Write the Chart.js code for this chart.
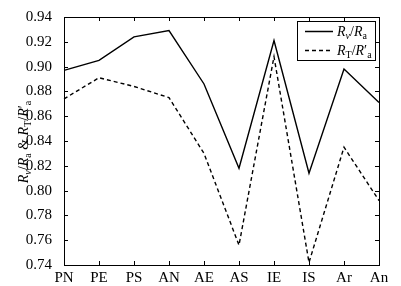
<!DOCTYPE html>
<html><head><meta charset="utf-8">
<script src="https://cdn.jsdelivr.net/npm/chart.js@4/dist/chart.umd.min.js"></script>
<style>html,body{margin:0;padding:0;background:#fff}canvas{display:block}</style>
</head><body>
<div style="width:401px;height:286px"><canvas id="c" width="401" height="286"></canvas></div>
<script>
const categories = ['PN','PE','PS','AN','AE','AS','IE','IS','Ar','An'];
const rvRa = [0.897,0.905,0.924,0.929,0.886,0.818,0.921,0.814,0.898,0.871];
const rtRa = [0.874,0.891,0.884,0.875,0.830,0.756,0.908,0.742,0.835,0.792];
const yMin = 0.74, yMax = 0.94, yStep = 0.02;

const FONT = '"Liberation Serif", "Times New Roman", serif';

function drawRich(ctx, parts, x, y, size, align) {
  const subSize = Math.round(size * 0.68);
  let total = 0;
  const widths = parts.map(p => {
    ctx.font = (p.italic ? 'italic ' : '') + (p.sub ? subSize : size) + 'px ' + FONT;
    const w = ctx.measureText(p.t).width;
    total += w;
    return w;
  });
  let cx = align === 'center' ? x - total / 2 : x;
  parts.forEach((p, i) => {
    ctx.font = (p.italic ? 'italic ' : '') + (p.sub ? subSize : size) + 'px ' + FONT;
    ctx.fillText(p.t, cx, y + (p.sub ? size * 0.22 : 0));
    cx += widths[i];
  });
  return total;
}

const rv = [{t:'R',italic:true},{t:'v',italic:true,sub:true},{t:'/'},{t:'R',italic:true},{t:'a',sub:true}];
const rt = [{t:'R',italic:true},{t:'T',sub:true},{t:'/'},{t:'R',italic:true},{t:'\u2032'},{t:'a',sub:true}];

const framePlugin = {
  id: 'frame',
  afterDraw(chart) {
    const ctx = chart.ctx, a = chart.chartArea;
    const xs = chart.scales.x, ys = chart.scales.y;
    ctx.save();
    ctx.strokeStyle = '#000';
    ctx.lineWidth = 1;
    ctx.setLineDash([]);
    ctx.strokeRect(Math.round(a.left) + 0.5, Math.round(a.top) + 0.5,
      Math.round(a.right - a.left), Math.round(a.bottom - a.top));
    const L = 4;
    ctx.beginPath();
    categories.forEach((c, i) => {
      const px = Math.round(xs.getPixelForValue(i)) + 0.5;
      ctx.moveTo(px, a.bottom); ctx.lineTo(px, a.bottom - L);
      ctx.moveTo(px, a.top); ctx.lineTo(px, a.top + L);
    });
    for (let v = yMin; v <= yMax + 1e-9; v += yStep) {
      const py = Math.round(ys.getPixelForValue(v)) + 0.5;
      ctx.moveTo(a.left, py); ctx.lineTo(a.left + L, py);
      ctx.moveTo(a.right, py); ctx.lineTo(a.right - L, py);
    }
    ctx.stroke();

    // legend
    const bx = 297, by = 21, bw = 78, bh = 39;
    ctx.fillStyle = '#fff';
    ctx.fillRect(bx, by, bw, bh);
    ctx.strokeRect(bx + 0.5, by + 0.5, bw, bh);
    ctx.lineWidth = 1.5;
    ctx.beginPath(); ctx.moveTo(305, 31.5); ctx.lineTo(333, 31.5); ctx.stroke();
    ctx.setLineDash([4, 3]);
    ctx.beginPath(); ctx.moveTo(305, 50.5); ctx.lineTo(333, 50.5); ctx.stroke();
    ctx.setLineDash([]);
    ctx.fillStyle = '#000';
    ctx.textBaseline = 'alphabetic';
    drawRich(ctx, rv, 337, 36, 14, 'left');
    drawRich(ctx, rt, 337, 55, 14, 'left');

    // y title
    ctx.translate(28, 142);
    ctx.rotate(-Math.PI / 2);
    drawRich(ctx, rv.concat([{t:' & '}], rt), 0, 0, 14, 'center');
    ctx.restore();
  }
};

new Chart(document.getElementById('c'), {
  type: 'line',
  data: {
    labels: categories,
    datasets: [
      {data: rvRa, borderColor: '#000', borderWidth: 1.4, pointRadius: 0, tension: 0, fill: false},
      {data: rtRa, borderColor: '#000', borderWidth: 1.4, borderDash: [4, 3], pointRadius: 0, tension: 0, fill: false}
    ]
  },
  options: {
    responsive: false,
    animation: false,
    devicePixelRatio: 1,
    layout: {padding: {top: 17, right: 22, left: 0, bottom: 0}},
    plugins: {legend: {display: false}, tooltip: {enabled: false}},
    scales: {
      x: {
        type: 'category', offset: false,
        grid: {display: false}, border: {display: false},
        ticks: {color: '#000', font: {family: FONT, size: 15}, padding: -4, autoSkip: false, maxRotation: 0},
        afterFit(s) { s.height = 21; }
      },
      y: {
        min: yMin, max: yMax,
        grid: {display: false}, border: {display: false},
        ticks: {color: '#000', stepSize: yStep, font: {family: FONT, size: 15}, padding: 4,
          callback: v => v.toFixed(2)},
        afterFit(s) { s.width = 64; }
      }
    }
  },
  plugins: [framePlugin]
});
</script>
</body></html>
